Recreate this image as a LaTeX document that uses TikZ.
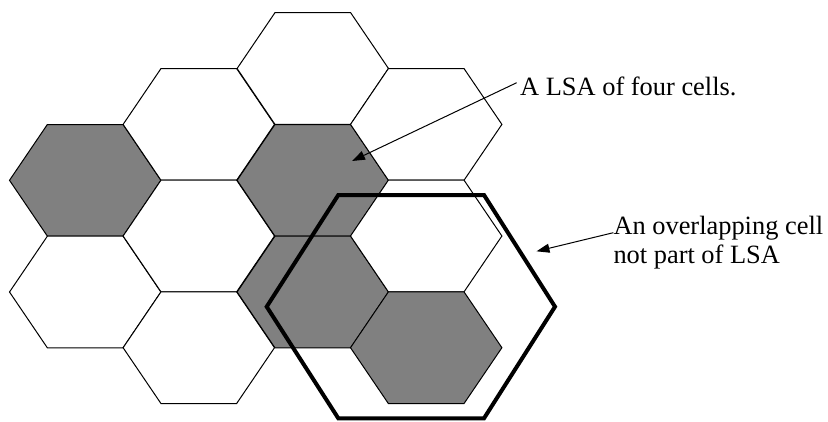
\documentclass[tikz,border=0pt]{standalone}
\usepackage{fontspec}
\setmainfont{Liberation Serif}
\usetikzlibrary{arrows.meta}
\tikzset{
  cell/.pic={\path[pic actions] (-75.7,0) -- (-37.85,55.8) -- (37.85,55.8) -- (75.7,0) -- (37.85,-55.8) -- (-37.85,-55.8) -- cycle;},
  whitecell/.style={draw=black, fill=white, line width=1pt, line join=miter},
  graycell/.style={draw=black, fill=gray, line width=1pt, line join=miter},
  bigcell/.style={draw=black, line width=4pt, line join=miter},
  label/.style={inner sep=0pt, font=\fontsize{26.4}{29}\selectfont, anchor=base west},
  pointer/.style={draw=black, line width=1pt, -{Triangle[length=13pt,width=9pt]}}
}
\begin{document}
\begin{tikzpicture}[x=1pt,y=1pt]
\useasboundingbox (0,0) rectangle (828,-421);
% column 1
\pic[graycell] at (85.2,-180.3) {cell};
\pic[whitecell] at (85.2,-292) {cell};
% column 2
\pic[whitecell] at (198.8,-124.4) {cell};
\pic[whitecell] at (198.8,-236) {cell};
\pic[whitecell] at (198.8,-347.7) {cell};
% column 3
\pic[whitecell] at (312.8,-68.5) {cell};
\pic[graycell] at (312.8,-180.3) {cell};
\pic[graycell] at (312.8,-292) {cell};
% column 4
\pic[whitecell] at (426.2,-124.4) {cell};
\pic[whitecell] at (426.2,-236) {cell};
\pic[graycell] at (426.2,-347.7) {cell};
% overlapping big cell
\draw[bigcell] (266.7,-306.7) -- (338.3,-195) -- (484,-195) -- (555,-306.7) -- (484,-418.3) -- (338.3,-418.3) -- cycle;
% labels
\node[label] (t1) at (520,-95) {A LSA of four cells.};
\node[label] (t2a) at (613.3,-234.3) {An overlapping cell};
\node[label] (t2b) at (613.3,-263.3) {not part of LSA};
\coordinate (tip1) at (352,-161);
\coordinate (tip2) at (536.5,-251.3);
\draw[pointer] ([xshift=-3.3pt,yshift=12.3pt]t1.base west) -- (tip1);
\draw[pointer] ([yshift=1.6pt]t2a.base west) -- (tip2);
\end{tikzpicture}
\end{document}
